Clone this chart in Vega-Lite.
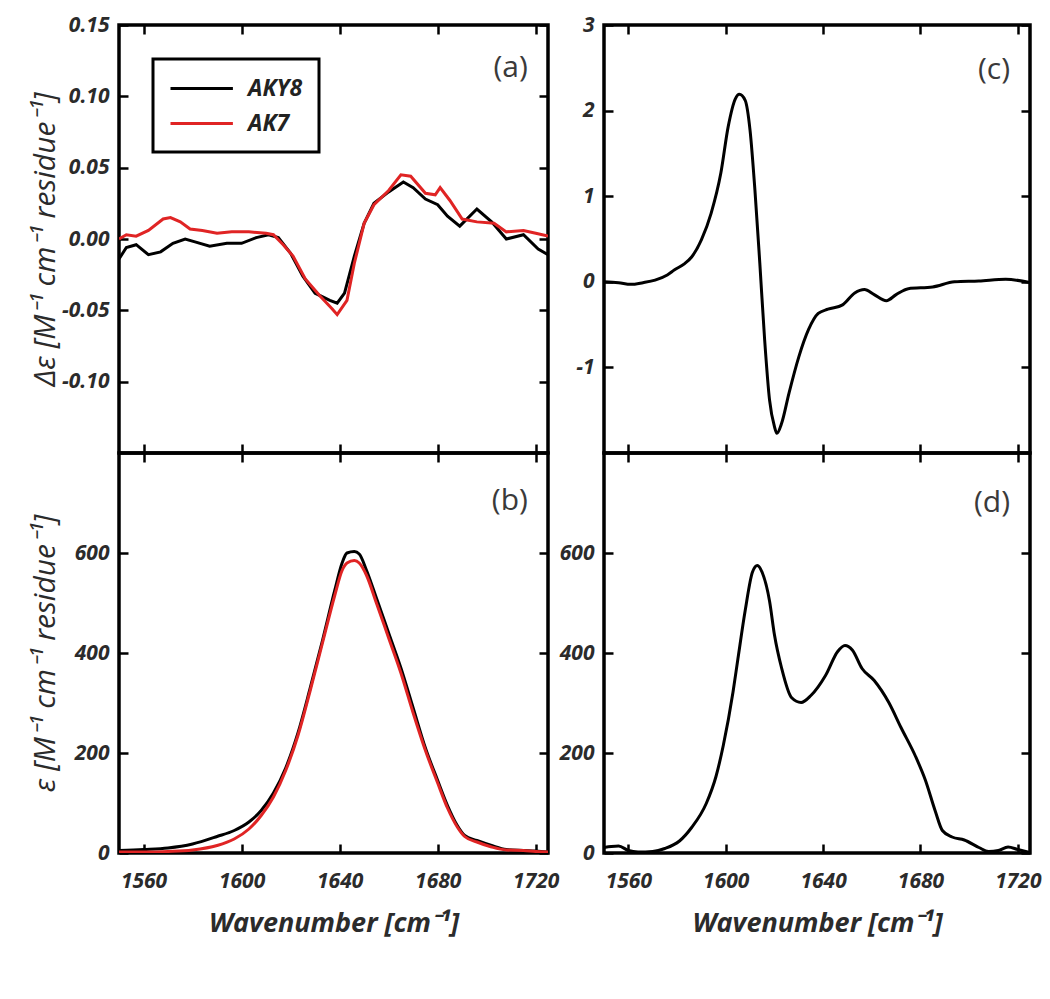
{
  "$schema": "https://vega.github.io/schema/vega-lite/v6.json",
  "background": "white",
  "padding": {"left": 28, "top": 12, "right": 5, "bottom": 5},
  "config": {
    "view": {"stroke": "black", "strokeWidth": 3.5},
    "axis": {
      "domain": false, "grid": false, "ticks": true,
      "tickColor": "black", "tickWidth": 2.5, "tickSize": -9,
      "labelFont": "Open Sans", "labelFontSize": 21, "labelFontStyle": "italic", "labelFontWeight": "bold", "labelColor": "#2b2b2b",
      "titleFont": "Open Sans", "titleColor": "#2b2b2b"
    },
    "axisX": {"labelPadding": 26, "titleFontSize": 27, "titleFontWeight": "bold", "titleFontStyle": "italic", "titlePadding": 19},
    "axisY": {"labelPadding": 19, "titleFontSize": 30, "titleFontWeight": "normal", "titleFontStyle": "italic"}
  },
  "datasets": {
    "a": [
      {"wn": 1550, "v": -0.014, "sample": "AKY8"},
      {"wn": 1553, "v": -0.006, "sample": "AKY8"},
      {"wn": 1557, "v": -0.004, "sample": "AKY8"},
      {"wn": 1562, "v": -0.011, "sample": "AKY8"},
      {"wn": 1567, "v": -0.009, "sample": "AKY8"},
      {"wn": 1572, "v": -0.003, "sample": "AKY8"},
      {"wn": 1577, "v": 0.000, "sample": "AKY8"},
      {"wn": 1581, "v": -0.002, "sample": "AKY8"},
      {"wn": 1587, "v": -0.005, "sample": "AKY8"},
      {"wn": 1594, "v": -0.003, "sample": "AKY8"},
      {"wn": 1600, "v": -0.003, "sample": "AKY8"},
      {"wn": 1606, "v": 0.001, "sample": "AKY8"},
      {"wn": 1611, "v": 0.003, "sample": "AKY8"},
      {"wn": 1615, "v": 0.001, "sample": "AKY8"},
      {"wn": 1620, "v": -0.010, "sample": "AKY8"},
      {"wn": 1625, "v": -0.026, "sample": "AKY8"},
      {"wn": 1630, "v": -0.038, "sample": "AKY8"},
      {"wn": 1636, "v": -0.043, "sample": "AKY8"},
      {"wn": 1639, "v": -0.045, "sample": "AKY8"},
      {"wn": 1642, "v": -0.038, "sample": "AKY8"},
      {"wn": 1646, "v": -0.012, "sample": "AKY8"},
      {"wn": 1650, "v": 0.011, "sample": "AKY8"},
      {"wn": 1654, "v": 0.025, "sample": "AKY8"},
      {"wn": 1660, "v": 0.033, "sample": "AKY8"},
      {"wn": 1666, "v": 0.040, "sample": "AKY8"},
      {"wn": 1670, "v": 0.036, "sample": "AKY8"},
      {"wn": 1675, "v": 0.028, "sample": "AKY8"},
      {"wn": 1680, "v": 0.024, "sample": "AKY8"},
      {"wn": 1684, "v": 0.016, "sample": "AKY8"},
      {"wn": 1689, "v": 0.009, "sample": "AKY8"},
      {"wn": 1696, "v": 0.021, "sample": "AKY8"},
      {"wn": 1702, "v": 0.012, "sample": "AKY8"},
      {"wn": 1708, "v": 0.000, "sample": "AKY8"},
      {"wn": 1715, "v": 0.003, "sample": "AKY8"},
      {"wn": 1721, "v": -0.007, "sample": "AKY8"},
      {"wn": 1725, "v": -0.011, "sample": "AKY8"},
      {"wn": 1550, "v": 0.000, "sample": "AK7"},
      {"wn": 1553, "v": 0.003, "sample": "AK7"},
      {"wn": 1557, "v": 0.002, "sample": "AK7"},
      {"wn": 1562, "v": 0.006, "sample": "AK7"},
      {"wn": 1568, "v": 0.014, "sample": "AK7"},
      {"wn": 1571, "v": 0.015, "sample": "AK7"},
      {"wn": 1575, "v": 0.012, "sample": "AK7"},
      {"wn": 1579, "v": 0.007, "sample": "AK7"},
      {"wn": 1584, "v": 0.006, "sample": "AK7"},
      {"wn": 1590, "v": 0.004, "sample": "AK7"},
      {"wn": 1596, "v": 0.005, "sample": "AK7"},
      {"wn": 1603, "v": 0.005, "sample": "AK7"},
      {"wn": 1610, "v": 0.004, "sample": "AK7"},
      {"wn": 1613, "v": 0.003, "sample": "AK7"},
      {"wn": 1617, "v": -0.004, "sample": "AK7"},
      {"wn": 1621, "v": -0.012, "sample": "AK7"},
      {"wn": 1626, "v": -0.028, "sample": "AK7"},
      {"wn": 1632, "v": -0.040, "sample": "AK7"},
      {"wn": 1637, "v": -0.049, "sample": "AK7"},
      {"wn": 1639, "v": -0.053, "sample": "AK7"},
      {"wn": 1643, "v": -0.043, "sample": "AK7"},
      {"wn": 1646, "v": -0.017, "sample": "AK7"},
      {"wn": 1650, "v": 0.011, "sample": "AK7"},
      {"wn": 1654, "v": 0.024, "sample": "AK7"},
      {"wn": 1660, "v": 0.034, "sample": "AK7"},
      {"wn": 1665, "v": 0.045, "sample": "AK7"},
      {"wn": 1669, "v": 0.044, "sample": "AK7"},
      {"wn": 1675, "v": 0.032, "sample": "AK7"},
      {"wn": 1679, "v": 0.031, "sample": "AK7"},
      {"wn": 1681, "v": 0.036, "sample": "AK7"},
      {"wn": 1685, "v": 0.027, "sample": "AK7"},
      {"wn": 1690, "v": 0.014, "sample": "AK7"},
      {"wn": 1696, "v": 0.012, "sample": "AK7"},
      {"wn": 1703, "v": 0.011, "sample": "AK7"},
      {"wn": 1708, "v": 0.005, "sample": "AK7"},
      {"wn": 1715, "v": 0.006, "sample": "AK7"},
      {"wn": 1720, "v": 0.004, "sample": "AK7"},
      {"wn": 1725, "v": 0.002, "sample": "AK7"}
    ],
    "b": [
      {"wn": 1550, "v": 5, "sample": "AKY8"},
      {"wn": 1560, "v": 7, "sample": "AKY8"},
      {"wn": 1570, "v": 10, "sample": "AKY8"},
      {"wn": 1580, "v": 18, "sample": "AKY8"},
      {"wn": 1590, "v": 33, "sample": "AKY8"},
      {"wn": 1597, "v": 45, "sample": "AKY8"},
      {"wn": 1603, "v": 62, "sample": "AKY8"},
      {"wn": 1608, "v": 85, "sample": "AKY8"},
      {"wn": 1613, "v": 120, "sample": "AKY8"},
      {"wn": 1618, "v": 170, "sample": "AKY8"},
      {"wn": 1623, "v": 240, "sample": "AKY8"},
      {"wn": 1628, "v": 330, "sample": "AKY8"},
      {"wn": 1633, "v": 425, "sample": "AKY8"},
      {"wn": 1638, "v": 525, "sample": "AKY8"},
      {"wn": 1641, "v": 580, "sample": "AKY8"},
      {"wn": 1643, "v": 600, "sample": "AKY8"},
      {"wn": 1646, "v": 603, "sample": "AKY8"},
      {"wn": 1648, "v": 598, "sample": "AKY8"},
      {"wn": 1651, "v": 565, "sample": "AKY8"},
      {"wn": 1655, "v": 510, "sample": "AKY8"},
      {"wn": 1660, "v": 440, "sample": "AKY8"},
      {"wn": 1665, "v": 370, "sample": "AKY8"},
      {"wn": 1670, "v": 290, "sample": "AKY8"},
      {"wn": 1675, "v": 210, "sample": "AKY8"},
      {"wn": 1680, "v": 145, "sample": "AKY8"},
      {"wn": 1684, "v": 95, "sample": "AKY8"},
      {"wn": 1688, "v": 55, "sample": "AKY8"},
      {"wn": 1691, "v": 35, "sample": "AKY8"},
      {"wn": 1696, "v": 25, "sample": "AKY8"},
      {"wn": 1702, "v": 15, "sample": "AKY8"},
      {"wn": 1708, "v": 7, "sample": "AKY8"},
      {"wn": 1715, "v": 5, "sample": "AKY8"},
      {"wn": 1720, "v": 4, "sample": "AKY8"},
      {"wn": 1725, "v": 2, "sample": "AKY8"},
      {"wn": 1550, "v": 2, "sample": "AK7"},
      {"wn": 1560, "v": 2, "sample": "AK7"},
      {"wn": 1570, "v": 3, "sample": "AK7"},
      {"wn": 1580, "v": 6, "sample": "AK7"},
      {"wn": 1590, "v": 15, "sample": "AK7"},
      {"wn": 1597, "v": 28, "sample": "AK7"},
      {"wn": 1603, "v": 48, "sample": "AK7"},
      {"wn": 1608, "v": 75, "sample": "AK7"},
      {"wn": 1613, "v": 112, "sample": "AK7"},
      {"wn": 1618, "v": 165, "sample": "AK7"},
      {"wn": 1623, "v": 235, "sample": "AK7"},
      {"wn": 1628, "v": 325, "sample": "AK7"},
      {"wn": 1633, "v": 420, "sample": "AK7"},
      {"wn": 1638, "v": 515, "sample": "AK7"},
      {"wn": 1641, "v": 565, "sample": "AK7"},
      {"wn": 1643, "v": 580, "sample": "AK7"},
      {"wn": 1646, "v": 585, "sample": "AK7"},
      {"wn": 1648, "v": 580, "sample": "AK7"},
      {"wn": 1651, "v": 555, "sample": "AK7"},
      {"wn": 1655, "v": 500, "sample": "AK7"},
      {"wn": 1660, "v": 430, "sample": "AK7"},
      {"wn": 1665, "v": 360, "sample": "AK7"},
      {"wn": 1670, "v": 280, "sample": "AK7"},
      {"wn": 1675, "v": 205, "sample": "AK7"},
      {"wn": 1680, "v": 140, "sample": "AK7"},
      {"wn": 1684, "v": 90, "sample": "AK7"},
      {"wn": 1688, "v": 52, "sample": "AK7"},
      {"wn": 1691, "v": 33, "sample": "AK7"},
      {"wn": 1696, "v": 22, "sample": "AK7"},
      {"wn": 1702, "v": 12, "sample": "AK7"},
      {"wn": 1708, "v": 6, "sample": "AK7"},
      {"wn": 1715, "v": 5, "sample": "AK7"},
      {"wn": 1720, "v": 3, "sample": "AK7"},
      {"wn": 1725, "v": 2, "sample": "AK7"}
    ],
    "c": [
      {"wn": 1550, "v": 0.0},
      {"wn": 1556, "v": -0.01},
      {"wn": 1561, "v": -0.03},
      {"wn": 1566, "v": -0.01},
      {"wn": 1571, "v": 0.02},
      {"wn": 1576, "v": 0.08},
      {"wn": 1579, "v": 0.14},
      {"wn": 1583, "v": 0.21},
      {"wn": 1586, "v": 0.29},
      {"wn": 1590, "v": 0.49},
      {"wn": 1594, "v": 0.80},
      {"wn": 1598, "v": 1.27},
      {"wn": 1601, "v": 1.81},
      {"wn": 1604, "v": 2.14},
      {"wn": 1605.6, "v": 2.19},
      {"wn": 1608, "v": 2.12},
      {"wn": 1610, "v": 1.77},
      {"wn": 1612, "v": 1.07},
      {"wn": 1614, "v": 0.22},
      {"wn": 1616, "v": -0.68},
      {"wn": 1618, "v": -1.38},
      {"wn": 1620, "v": -1.69},
      {"wn": 1621, "v": -1.77},
      {"wn": 1623, "v": -1.65},
      {"wn": 1626, "v": -1.30},
      {"wn": 1630, "v": -0.88},
      {"wn": 1634, "v": -0.56},
      {"wn": 1638, "v": -0.37},
      {"wn": 1642, "v": -0.32},
      {"wn": 1648, "v": -0.27},
      {"wn": 1653, "v": -0.13},
      {"wn": 1657, "v": -0.09},
      {"wn": 1661, "v": -0.15},
      {"wn": 1666, "v": -0.22},
      {"wn": 1670, "v": -0.15},
      {"wn": 1675, "v": -0.08},
      {"wn": 1685, "v": -0.06},
      {"wn": 1694, "v": 0.0},
      {"wn": 1704, "v": 0.01},
      {"wn": 1715, "v": 0.03},
      {"wn": 1725, "v": -0.01}
    ],
    "d": [
      {"wn": 1550, "v": 11},
      {"wn": 1553, "v": 13},
      {"wn": 1556, "v": 14},
      {"wn": 1560, "v": 5},
      {"wn": 1564, "v": 2},
      {"wn": 1570, "v": 3},
      {"wn": 1575, "v": 9},
      {"wn": 1581, "v": 24},
      {"wn": 1586, "v": 51},
      {"wn": 1592, "v": 99},
      {"wn": 1596, "v": 153},
      {"wn": 1599, "v": 215},
      {"wn": 1603, "v": 322},
      {"wn": 1605, "v": 388},
      {"wn": 1608, "v": 485},
      {"wn": 1611, "v": 562},
      {"wn": 1613, "v": 575},
      {"wn": 1615, "v": 561},
      {"wn": 1618, "v": 504},
      {"wn": 1620, "v": 437},
      {"wn": 1623, "v": 369},
      {"wn": 1627, "v": 311},
      {"wn": 1631, "v": 301},
      {"wn": 1635, "v": 315},
      {"wn": 1641, "v": 355},
      {"wn": 1646, "v": 403},
      {"wn": 1649, "v": 415},
      {"wn": 1652, "v": 406},
      {"wn": 1656, "v": 369},
      {"wn": 1661, "v": 345},
      {"wn": 1667, "v": 301},
      {"wn": 1672, "v": 251},
      {"wn": 1678, "v": 193},
      {"wn": 1682, "v": 146},
      {"wn": 1686, "v": 85},
      {"wn": 1689, "v": 45},
      {"wn": 1693, "v": 32},
      {"wn": 1698, "v": 26},
      {"wn": 1704, "v": 11},
      {"wn": 1708, "v": 3},
      {"wn": 1712, "v": 5},
      {"wn": 1716, "v": 12},
      {"wn": 1720, "v": 7},
      {"wn": 1725, "v": 1}
    ]
  },
  "hconcat": [
    {
      "vconcat": [
        {
          "width": 429, "height": 428,
          "layer": [
            {
              "data": {"name": "a"},
              "mark": {"type": "line", "strokeWidth": 3, "clip": true},
              "encoding": {
                "x": {"field": "wn", "type": "quantitative", "scale": {"domain": [1550, 1725], "nice": false, "zero": false},
                      "axis": {"orient": "bottom", "values": [1560, 1600, 1640, 1680, 1720], "labels": false, "title": null}},
                "y": {"field": "v", "type": "quantitative", "scale": {"domain": [-0.15, 0.15], "nice": false, "zero": false},
                      "axis": {"orient": "left", "values": [-0.1, -0.05, 0, 0.05, 0.1, 0.15], "format": ".2f", "labelExpr": "replace(datum.label, '−', '-')",
                               "title": "Δε [M⁻¹ cm⁻¹ residue⁻¹]", "titleX": -65, "titleBaseline": "alphabetic"}},
                "color": {"field": "sample", "type": "nominal", "sort": ["AKY8", "AK7"],
                          "scale": {"domain": ["AKY8", "AK7"], "range": ["#000000", "#e02424"]},
                          "legend": {"orient": "top-left", "offset": 34, "title": null,
                                     "symbolType": "M-1,0H4.2", "symbolSize": 576, "symbolStrokeWidth": 3,
                                     "labelFont": "Open Sans", "labelFontSize": 23, "labelFontStyle": "italic", "labelFontWeight": "bold", "labelColor": "#222222",
                                     "labelOffset": 52, "rowPadding": 9, "padding": 16,
                                     "strokeColor": "black", "fillColor": "white",
                                     "encode": {"legend": {"update": {"strokeWidth": {"value": 3}}}}}}
              }
            },
            {
              "data": {"values": [{"label": "(a)"}]},
              "mark": {"type": "text", "align": "right", "baseline": "middle", "fontSize": 30, "font": "Open Sans", "color": "#3a3a3a"},
              "encoding": {
                "text": {"field": "label"},
                "x": {"datum": 1716.8, "type": "quantitative", "axis": {"orient": "top", "values": [1560, 1600, 1640, 1680, 1720], "labels": false, "title": null}},
                "y": {"datum": 0.12, "type": "quantitative", "axis": {"orient": "right", "values": [-0.1, -0.05, 0, 0.05, 0.1, 0.15], "labels": false, "title": null}}
              }
            }
          ],
          "resolve": {"axis": {"x": "independent", "y": "independent"}}
        },
        {
          "width": 429, "height": 400,
          "layer": [
            {
              "data": {"name": "b"},
              "mark": {"type": "line", "strokeWidth": 3, "clip": true, "interpolate": "monotone"},
              "encoding": {
                "x": {"field": "wn", "type": "quantitative", "scale": {"domain": [1550, 1725], "nice": false, "zero": false},
                      "axis": {"orient": "bottom", "values": [1560, 1600, 1640, 1680, 1720], "format": "d", "title": "Wavenumber [cm⁻¹]"}},
                "y": {"field": "v", "type": "quantitative", "scale": {"domain": [0, 800], "nice": false, "zero": false},
                      "axis": {"orient": "left", "values": [0, 200, 400, 600], "format": "d",
                               "title": "ε [M⁻¹ cm⁻¹ residue⁻¹]", "titleX": -65, "titleBaseline": "alphabetic"}},
                "color": {"field": "sample", "type": "nominal", "sort": ["AKY8", "AK7"],
                          "scale": {"domain": ["AKY8", "AK7"], "range": ["#000000", "#e02424"]}, "legend": null}
              }
            },
            {
              "data": {"values": [{"label": "(b)"}]},
              "mark": {"type": "text", "align": "right", "baseline": "middle", "fontSize": 30, "font": "Open Sans", "color": "#3a3a3a"},
              "encoding": {
                "text": {"field": "label"},
                "x": {"datum": 1716.8, "type": "quantitative", "axis": {"orient": "top", "values": [1560, 1600, 1640, 1680, 1720], "labels": false, "title": null}},
                "y": {"datum": 705, "type": "quantitative", "axis": {"orient": "right", "values": [0, 200, 400, 600], "labels": false, "title": null}}
              }
            }
          ],
          "resolve": {"axis": {"x": "independent", "y": "independent"}}
        }
      ],
      "spacing": 0,
      "bounds": "flush",
      "resolve": {"legend": {"color": "independent"}}
    },
    {
      "vconcat": [
        {
          "width": 426, "height": 428,
          "layer": [
            {
              "data": {"name": "c"},
              "mark": {"type": "line", "strokeWidth": 3, "color": "black", "clip": true, "interpolate": "monotone"},
              "encoding": {
                "x": {"field": "wn", "type": "quantitative", "scale": {"domain": [1550, 1725], "nice": false, "zero": false},
                      "axis": {"orient": "bottom", "values": [1560, 1600, 1640, 1680, 1720], "labels": false, "title": null}},
                "y": {"field": "v", "type": "quantitative", "scale": {"domain": [-2, 3], "nice": false, "zero": false},
                      "axis": {"orient": "left", "values": [-1, 0, 1, 2, 3], "format": "d", "labelExpr": "replace(datum.label, '−', '-')", "title": null}}
              }
            },
            {
              "data": {"values": [{"label": "(c)"}]},
              "mark": {"type": "text", "align": "right", "baseline": "middle", "fontSize": 30, "font": "Open Sans", "color": "#3a3a3a"},
              "encoding": {
                "text": {"field": "label"},
                "x": {"datum": 1716.8, "type": "quantitative", "axis": {"orient": "top", "values": [1560, 1600, 1640, 1680, 1720], "labels": false, "title": null}},
                "y": {"datum": 2.47, "type": "quantitative", "axis": {"orient": "right", "values": [-1, 0, 1, 2, 3], "labels": false, "title": null}}
              }
            }
          ],
          "resolve": {"axis": {"x": "independent", "y": "independent"}}
        },
        {
          "width": 426, "height": 400,
          "layer": [
            {
              "data": {"name": "d"},
              "mark": {"type": "line", "strokeWidth": 3, "color": "black", "clip": true, "interpolate": "monotone"},
              "encoding": {
                "x": {"field": "wn", "type": "quantitative", "scale": {"domain": [1550, 1725], "nice": false, "zero": false},
                      "axis": {"orient": "bottom", "values": [1560, 1600, 1640, 1680, 1720], "format": "d", "title": "Wavenumber [cm⁻¹]"}},
                "y": {"field": "v", "type": "quantitative", "scale": {"domain": [0, 800], "nice": false, "zero": false},
                      "axis": {"orient": "left", "values": [0, 200, 400, 600], "format": "d", "title": null}}
              }
            },
            {
              "data": {"values": [{"label": "(d)"}]},
              "mark": {"type": "text", "align": "right", "baseline": "middle", "fontSize": 30, "font": "Open Sans", "color": "#3a3a3a"},
              "encoding": {
                "text": {"field": "label"},
                "x": {"datum": 1716.8, "type": "quantitative", "axis": {"orient": "top", "values": [1560, 1600, 1640, 1680, 1720], "labels": false, "title": null}},
                "y": {"datum": 700, "type": "quantitative", "axis": {"orient": "right", "values": [0, 200, 400, 600], "labels": false, "title": null}}
              }
            }
          ],
          "resolve": {"axis": {"x": "independent", "y": "independent"}}
        }
      ],
      "spacing": 0,
      "bounds": "flush"
    }
  ],
  "spacing": -4
}
